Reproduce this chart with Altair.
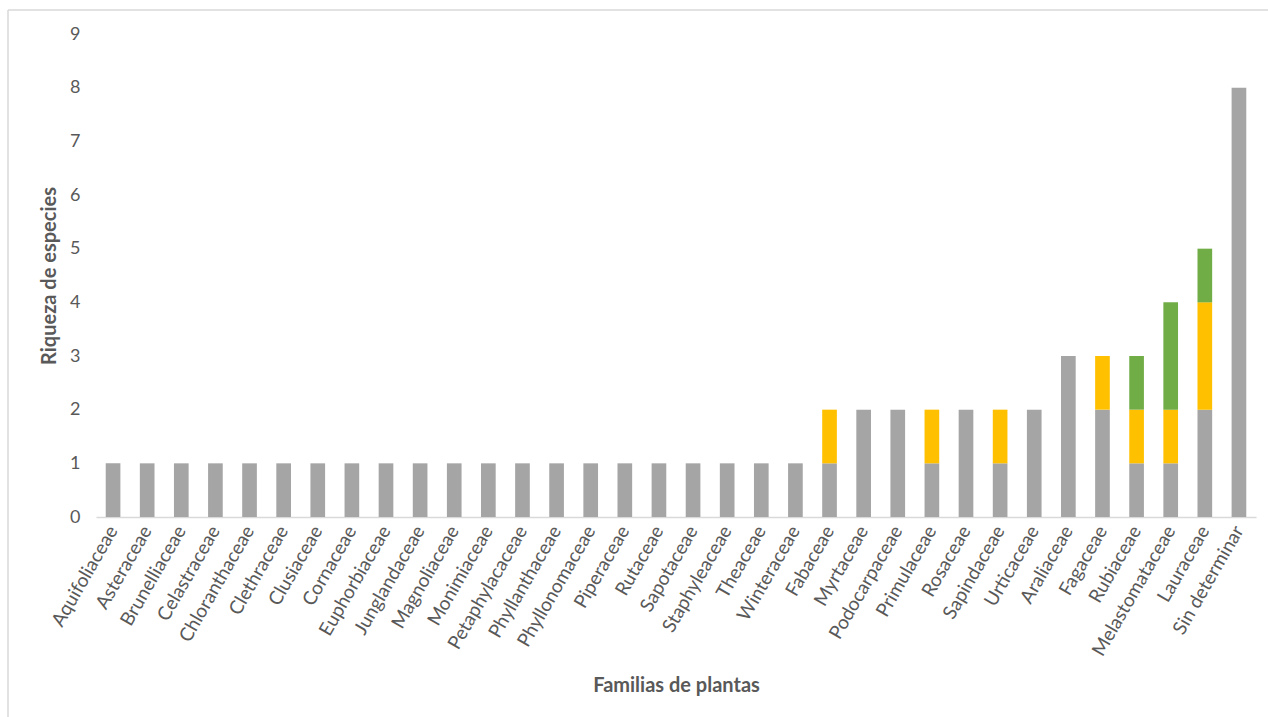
import altair as alt
import pandas as pd

families = [
    "Aquifoliaceae", "Asteraceae", "Brunelliaceae", "Celastraceae", "Chloranthaceae",
    "Clethraceae", "Clusiaceae", "Cornaceae", "Euphorbiaceae", "Junglandaceae",
    "Magnoliaceae", "Monimiaceae", "Petaphylacaceae", "Phyllanthaceae", "Phyllonomaceae",
    "Piperaceae", "Rutaceae", "Sapotaceae", "Staphyleaceae", "Theaceae",
    "Winteraceae", "Fabaceae", "Myrtaceae", "Podocarpaceae", "Primulaceae",
    "Rosaceae", "Sapindaceae", "Urticaceae", "Araliaceae", "Fagaceae",
    "Rubiaceae", "Melastomataceae", "Lauraceae", "Sin determinar",
]
serie_gris = [1] * 21 + [1, 2, 2, 1, 2, 1, 2, 3, 2, 1, 1, 2, 8]
serie_amarilla = [0] * 21 + [1, 0, 0, 1, 0, 1, 0, 0, 1, 1, 1, 2, 0]
serie_verde = [0] * 21 + [0, 0, 0, 0, 0, 0, 0, 0, 0, 1, 2, 1, 0]

series_names = ["Serie 1", "Serie 2", "Serie 3"]
series_colors = ["#A5A5A5", "#FFC000", "#70AD47"]

rows = []
for i, fam in enumerate(families):
    for k, vals in enumerate([serie_gris, serie_amarilla, serie_verde]):
        if vals[i] > 0:
            rows.append({"familia": fam, "serie": series_names[k], "orden": k, "valor": vals[i]})
df = pd.DataFrame(rows)

FONT = "Lato"
TXT = "#595959"

bars = alt.Chart(df).mark_bar(stroke=None).encode(
    x=alt.X(
        "familia:N",
        sort=families,
        scale=alt.Scale(paddingInner=0.57, paddingOuter=0.285),
        axis=alt.Axis(
            title="Familias de plantas",
            labelAngle=-60,
            labelAlign="right",
            labelBaseline="middle",
            labelPadding=10,
            labelFontSize=19,
            labelColor=TXT,
            labelFont=FONT,
            ticks=False,
            domainColor="#D9D9D9",
            domainWidth=1.5,
            titleFont=FONT,
            titleFontSize=20,
            titleFontWeight="bold",
            titleColor=TXT,
            titleX=580,
            titleY=168,
            titleBaseline="middle",
            titleAlign="center",
            labelOverlap=False,
        ),
    ),
    y=alt.Y(
        "valor:Q",
        stack="zero",
        scale=alt.Scale(domain=[0, 9], nice=False),
        axis=alt.Axis(
            title="Riqueza de especies",
            values=list(range(10)),
            grid=False,
            domain=False,
            ticks=False,
            labelPadding=16,
            labelFontSize=18,
            labelColor=TXT,
            labelFont=FONT,
            titleFont=FONT,
            titleFontSize=20,
            titleFontWeight="bold",
            titleColor=TXT,
            titleAngle=-90,
            titleX=-47,
            titleY=241.5,
            titleAlign="center",
            titleBaseline="middle",
        ),
    ),
    color=alt.Color(
        "serie:N",
        scale=alt.Scale(domain=series_names, range=series_colors),
        legend=None,
    ),
    order=alt.Order("orden:Q"),
)

frame_left = alt.Chart(pd.DataFrame({"a": [0]})).mark_rule(color="#D9D9D9", strokeWidth=1.5).encode(
    x=alt.value(-88), y=alt.value(-24), y2=alt.value(700)
)
frame_top = alt.Chart(pd.DataFrame({"a": [0]})).mark_rule(color="#D9D9D9", strokeWidth=1.5).encode(
    x=alt.value(-88), x2=alt.value(1220), y=alt.value(-24)
)

chart = alt.layer(frame_left, frame_top, bars).properties(
    width=1160,
    height=483,
    autosize=alt.AutoSizeParams(type="none"),
    padding={"left": 96, "top": 34, "right": 12, "bottom": 200},
    background="white",
).configure_view(stroke=None)

chart.save("out.html", embed_options={"renderer": "svg", "actions": False})
